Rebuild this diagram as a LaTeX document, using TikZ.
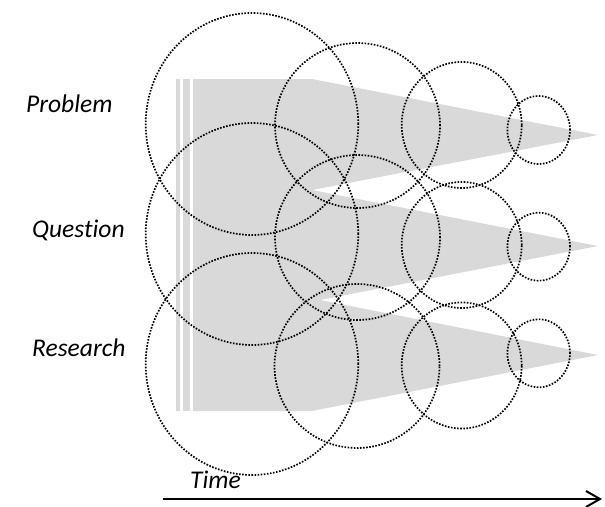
\documentclass[tikz,border=0pt]{standalone}
\usepackage{fontspec}
\setmainfont{Carlito}[RawFeature={-liga;-clig;-calt;-dlig}]
\usetikzlibrary{shapes.geometric,arrows.meta}
\definecolor{wedgegray}{HTML}{D9D9D9}
\begin{document}
\begin{tikzpicture}[x=1pt,y=-1pt,
  ring/.style={ellipse, draw, inner sep=0pt, line width=1.7pt, dash pattern=on 1.6pt off 1.5pt},
  lbl/.style={anchor=base west, inner sep=0pt, font=\itshape\fontsize{25.5}{30}\selectfont}]
\useasboundingbox (0,0) rectangle (605,506);
% grey funnels
\fill[wedgegray] (176,79) rectangle (180,411);
\fill[wedgegray] (183,79) rectangle (190,411);
\fill[wedgegray] (193,79) -- (312,79) -- (598,135) -- (312,190) -- (598,246) -- (320,300) -- (598,355) -- (312,411) -- (193,411) -- cycle;
% rings, left to right
\node[ring, minimum width=212.6pt, minimum height=222pt] (cir11) at (252,124){};
\node[ring, minimum width=212.6pt, minimum height=222pt] (cir21) at (252,234){};
\node[ring, minimum width=212.6pt, minimum height=222pt] (cir31) at (252,364){};
\node[ring, minimum width=165pt, minimum height=165pt] (cir12) at (357.5,125.5){};
\node[ring, minimum width=165pt, minimum height=165pt] (cir22) at (357.5,237.5){};
\node[ring, minimum width=165pt, minimum height=164pt] (cir32) at (357,366){};
\node[ring, minimum width=120pt, minimum height=126pt] (cir13) at (461.7,125){};
\node[ring, minimum width=120pt, minimum height=126pt] (cir23) at (461.7,245){};
\node[ring, minimum width=120pt, minimum height=126pt] (cir33) at (461.7,365.5){};
\node[ring, minimum width=62.6pt, minimum height=68pt] (cir14) at (538.7,130){};
\node[ring, minimum width=62.6pt, minimum height=68pt] (cir24) at (538.7,246.7){};
\node[ring, minimum width=62.6pt, minimum height=68pt] (cir34) at (538.7,353.3){};
% labels
\node[lbl] (prob) at (26,112.3){Problem};
\node[lbl] (ques) at (32,237.7){Question};
\node[lbl] (res) at (32,356){Research};
\node[lbl] (time) at (190,488.3){Time};
\coordinate (t0) at (163,499);
\coordinate (t1) at (602,499);
\draw[line width=2pt, -{Straight Barb[length=14pt,width=16pt]}] (t0) -- (t1);
\end{tikzpicture}
\end{document}
